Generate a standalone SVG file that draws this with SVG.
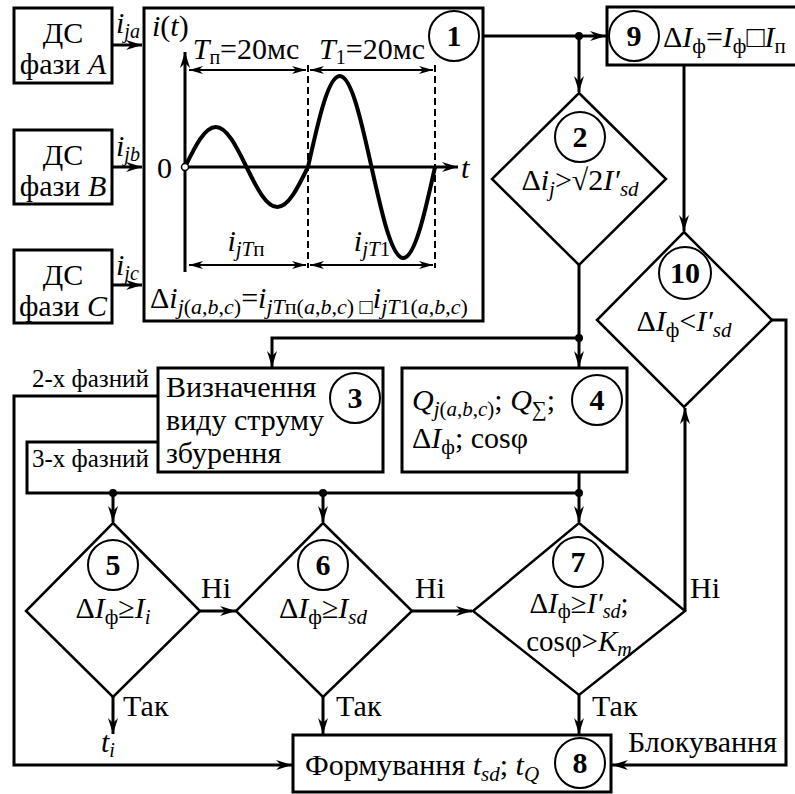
<svg xmlns="http://www.w3.org/2000/svg" width="795" height="794" viewBox="0 0 795 794">
<defs>
<marker id="arr" viewBox="0 0 16 10" refX="16" refY="5" markerWidth="16" markerHeight="10" markerUnits="userSpaceOnUse" orient="auto">
<path d="M0,0 L16,5 L0,10 L5,5 z" fill="#000"/>
</marker>
<marker id="da" viewBox="0 0 14 8" refX="14" refY="4" markerWidth="14" markerHeight="8" markerUnits="userSpaceOnUse" orient="auto">
<path d="M0,0 L14,4 L0,8 L4,4 z" fill="#000"/>
</marker>
<marker id="das" viewBox="0 0 14 8" refX="0" refY="4" markerWidth="14" markerHeight="8" markerUnits="userSpaceOnUse" orient="auto">
<path d="M14,0 L0,4 L14,8 L10,4 z" fill="#000"/>
</marker>
</defs>
<rect width="795" height="794" fill="#fff"/>

<g id="connectors" stroke="#000" stroke-width="3" fill="none">
<path d="M112,45 H142" marker-end="url(#arr)"/>
<path d="M112,167 H142" marker-end="url(#arr)"/>
<path d="M112,285 H142" marker-end="url(#arr)"/>
<path d="M483,36 H606" marker-end="url(#arr)"/>
<path d="M579,36 V92" marker-end="url(#arr)"/>
<path d="M579,265 V367" marker-end="url(#arr)"/>
<path d="M579,338 H272 V367" marker-end="url(#arr)"/>
<path d="M684,65 V231" marker-end="url(#arr)"/>
<path d="M772,320 H786 V765 H612" marker-end="url(#arr)"/>
<path d="M158,396 H14 V765 H292" marker-end="url(#arr)"/>
<path d="M158,442 H27 V493 H579"/>
<path d="M579,472 V522" marker-end="url(#arr)"/>
<path d="M113,493 V522" marker-end="url(#arr)"/>
<path d="M323,493 V522" marker-end="url(#arr)"/>
<path d="M200,611 H236" marker-end="url(#arr)"/>
<path d="M412,611 H472" marker-end="url(#arr)"/>
<path d="M685,611 V408" marker-end="url(#arr)"/>
<path d="M113,697 V734" marker-end="url(#arr)"/>
<path d="M323,697 V734" marker-end="url(#arr)"/>
<path d="M579,695 V734" marker-end="url(#arr)"/>
<g fill="#000" stroke="none">
<circle cx="579" cy="36" r="4"/>
<circle cx="579" cy="338" r="4"/>
<circle cx="579" cy="493" r="4"/>
<circle cx="113" cy="493" r="4"/>
<circle cx="323" cy="493" r="4"/>
</g>
</g>

<g id="labels">
<text font-family="Liberation Serif" font-size="30" x="116" y="33" font-style="italic">i<tspan font-size="20" dy="5">ja</tspan></text>
<text font-family="Liberation Serif" font-size="30" x="116" y="156" font-style="italic">i<tspan font-size="20" dy="5">jb</tspan></text>
<text font-family="Liberation Serif" font-size="30" x="116" y="275" font-style="italic">i<tspan font-size="20" dy="5">jc</tspan></text>
<text font-family="Liberation Serif" font-size="25" x="32" y="387">2-х фазний</text>
<text font-family="Liberation Serif" font-size="25" x="32" y="467">3-х фазний</text>
<text font-family="Liberation Serif" font-size="30" x="201" y="598">Ні</text>
<text font-family="Liberation Serif" font-size="30" x="415" y="598">Ні</text>
<text font-family="Liberation Serif" font-size="30" x="690" y="598">Ні</text>
<text font-family="Liberation Serif" font-size="30" x="123" y="716">Так</text>
<text font-family="Liberation Serif" font-size="30" x="336" y="716">Так</text>
<text font-family="Liberation Serif" font-size="30" x="592" y="716">Так</text>
<text font-family="Liberation Serif" font-size="30" x="101" y="752" font-style="italic">t<tspan font-size="20" dy="5">i</tspan></text>
<text font-family="Liberation Serif" font-size="30" x="628" y="752">Блокування</text>
</g>

<g id="dsA">
<rect x="14" y="8" width="98" height="75" fill="#fff" stroke="#000" stroke-width="3"/>
<text font-family="Liberation Serif" font-size="30" x="63" y="43" text-anchor="middle">ДС</text>
<text font-family="Liberation Serif" font-size="30" x="63" y="74" text-anchor="middle">фази <tspan font-style="italic">A</tspan></text>
</g>
<g id="dsB">
<rect x="14" y="130" width="98" height="74" fill="#fff" stroke="#000" stroke-width="3"/>
<text font-family="Liberation Serif" font-size="30" x="63" y="165" text-anchor="middle">ДС</text>
<text font-family="Liberation Serif" font-size="30" x="63" y="196" text-anchor="middle">фази <tspan font-style="italic">B</tspan></text>
</g>
<g id="dsC">
<rect x="14" y="250" width="98" height="73" fill="#fff" stroke="#000" stroke-width="3"/>
<text font-family="Liberation Serif" font-size="30" x="63" y="285" text-anchor="middle">ДС</text>
<text font-family="Liberation Serif" font-size="30" x="63" y="316" text-anchor="middle">фази <tspan font-style="italic">C</tspan></text>
</g>

<g id="node1">
<rect x="144" y="8" width="339" height="313" fill="#fff" stroke="#000" stroke-width="3"/>
<circle cx="454" cy="36" r="25" fill="none" stroke="#000" stroke-width="2"/>
<text font-family="Liberation Serif" font-size="30" x="454" y="46" text-anchor="middle" font-weight="bold">1</text>
<path d="M185,272 V52" stroke="#000" stroke-width="3" fill="none" marker-end="url(#arr)"/>
<path d="M185,167 H458" stroke="#000" stroke-width="3" fill="none" marker-end="url(#arr)"/>
<path d="M308,65 V268 M435,65 V268" stroke="#000" stroke-width="2" stroke-dasharray="7,4" fill="none"/>
<g stroke="#000" stroke-width="2" fill="none">
<path d="M189,70 H306" marker-start="url(#das)" marker-end="url(#da)"/>
<path d="M310,70 H433" marker-start="url(#das)" marker-end="url(#da)"/>
<path d="M189,265 H306" marker-start="url(#das)" marker-end="url(#da)"/>
<path d="M310,265 H433" marker-start="url(#das)" marker-end="url(#da)"/>
</g>
<path d="M185,167 C195.3,146 204.7,127 215.75,127 C226.8,127 236.2,146 246.5,167 C256.8,188 266.2,207 277.25,207 C288.3,207 297.7,188 308,167 C318.6,119.2 328.3,76 339.75,76 C351.2,76 361,119.2 371.5,167 C382.1,214.8 391.8,258 403.25,258 C414.7,258 424.5,214.8 435,167" fill="none" stroke="#000" stroke-width="4"/>
<circle cx="185" cy="167" r="3.5" fill="#fff" stroke="#000" stroke-width="1.5"/>
<text font-family="Liberation Serif" font-size="30" x="152" y="36"><tspan font-style="italic">i</tspan>(<tspan font-style="italic">t</tspan>)</text>
<text font-family="Liberation Serif" font-size="30" x="157" y="178">0</text>
<text font-family="Liberation Serif" font-size="30" x="461" y="178" font-style="italic">t</text>
<text font-family="Liberation Serif" font-size="30" x="246" y="59" text-anchor="middle"><tspan font-style="italic">T</tspan><tspan font-size="20" dy="5">п</tspan><tspan dy="-5">=20мс</tspan></text>
<text font-family="Liberation Serif" font-size="30" x="372" y="59" text-anchor="middle"><tspan font-style="italic">T</tspan><tspan font-size="20" dy="5">1</tspan><tspan dy="-5">=20мс</tspan></text>
<text font-family="Liberation Serif" font-size="30" x="246" y="251" text-anchor="middle"><tspan font-style="italic">i</tspan><tspan font-size="21" font-style="italic" dy="5">jT</tspan><tspan font-size="21">п</tspan></text>
<text font-family="Liberation Serif" font-size="30" x="372" y="251" text-anchor="middle"><tspan font-style="italic">i</tspan><tspan font-size="21" font-style="italic" dy="5">jT</tspan><tspan font-size="21">1</tspan></text>
<text font-family="Liberation Serif" font-size="30" x="150" y="308">Δ<tspan font-style="italic">i</tspan><tspan font-size="22" dy="6"><tspan font-style="italic">j</tspan>(<tspan font-style="italic">a</tspan>,<tspan font-style="italic">b</tspan>,<tspan font-style="italic">c</tspan>)</tspan><tspan dy="-6">=</tspan><tspan font-style="italic">i</tspan><tspan font-size="22" dy="6"><tspan font-style="italic">jT</tspan>п(<tspan font-style="italic">a</tspan>,<tspan font-style="italic">b</tspan>,<tspan font-style="italic">c</tspan>) □</tspan><tspan font-style="italic" dy="-6">i</tspan><tspan font-size="22" dy="6"><tspan font-style="italic">jT</tspan>1(<tspan font-style="italic">a</tspan>,<tspan font-style="italic">b</tspan>,<tspan font-style="italic">c</tspan>)</tspan></text>
</g>

<g id="node9">
<rect x="607" y="7" width="200" height="58" fill="#fff" stroke="#000" stroke-width="3"/>
<circle cx="634" cy="36" r="25" fill="none" stroke="#000" stroke-width="2"/>
<text font-family="Liberation Serif" font-size="30" x="634" y="46" text-anchor="middle" font-weight="bold">9</text>
<text font-family="Liberation Serif" font-size="30" x="663" y="47">Δ<tspan font-style="italic">I</tspan><tspan font-size="21" dy="6">ф</tspan><tspan dy="-6">=</tspan><tspan font-style="italic">I</tspan><tspan font-size="21" dy="6">ф</tspan><tspan dy="-6">□</tspan><tspan font-style="italic">I</tspan><tspan font-size="21" dy="6">п</tspan></text>
</g>

<g id="node2">
<polygon points="579,93 666,179 579,265 492,179" fill="#fff" stroke="#000" stroke-width="2.5"/>
<circle cx="580" cy="137" r="25" fill="none" stroke="#000" stroke-width="2"/>
<text font-family="Liberation Serif" font-size="30" x="580" y="147" text-anchor="middle" font-weight="bold">2</text>
<text font-family="Liberation Serif" font-size="30" x="580" y="190" text-anchor="middle">Δ<tspan font-style="italic">i</tspan><tspan font-size="21" font-style="italic" dy="6">j</tspan><tspan dy="-6">&gt;√2</tspan><tspan font-style="italic">I′</tspan><tspan font-size="21" font-style="italic" dy="6">sd</tspan></text>
</g>

<g id="node10">
<polygon points="684,232 772,320 684,407 597,320" fill="#fff" stroke="#000" stroke-width="2.5"/>
<circle cx="685" cy="273" r="26" fill="none" stroke="#000" stroke-width="2"/>
<text font-family="Liberation Serif" font-size="30" x="685" y="283" text-anchor="middle" font-weight="bold">10</text>
<text font-family="Liberation Serif" font-size="30" x="684" y="331" text-anchor="middle">Δ<tspan font-style="italic">I</tspan><tspan font-size="21" dy="6">ф</tspan><tspan dy="-6">&lt;</tspan><tspan font-style="italic">I′</tspan><tspan font-size="21" font-style="italic" dy="6">sd</tspan></text>
</g>

<g id="node3">
<rect x="158" y="368" width="225" height="104" fill="#fff" stroke="#000" stroke-width="3"/>
<circle cx="355" cy="398" r="25" fill="none" stroke="#000" stroke-width="2"/>
<text font-family="Liberation Serif" font-size="30" x="355" y="408" text-anchor="middle" font-weight="bold">3</text>
<text font-family="Liberation Serif" font-size="30" x="166" y="397">Визначення</text>
<text font-family="Liberation Serif" font-size="30" x="166" y="430">виду струму</text>
<text font-family="Liberation Serif" font-size="30" x="166" y="463">збурення</text>
</g>

<g id="node4">
<rect x="402" y="368" width="225" height="104" fill="#fff" stroke="#000" stroke-width="3"/>
<circle cx="597" cy="400" r="25" fill="none" stroke="#000" stroke-width="2"/>
<text font-family="Liberation Serif" font-size="30" x="597" y="410" text-anchor="middle" font-weight="bold">4</text>
<text font-family="Liberation Serif" font-size="30" x="412" y="410"><tspan font-style="italic">Q</tspan><tspan font-size="21" dy="6"><tspan font-style="italic">j</tspan>(<tspan font-style="italic">a</tspan>,<tspan font-style="italic">b</tspan>,<tspan font-style="italic">c</tspan>)</tspan><tspan dy="-6">; </tspan><tspan font-style="italic">Q</tspan><tspan font-size="21" dy="6">∑</tspan><tspan dy="-6">;</tspan></text>
<text font-family="Liberation Serif" font-size="30" x="412" y="448">Δ<tspan font-style="italic">I</tspan><tspan font-size="21" dy="6">ф</tspan><tspan dy="-6">; cosφ</tspan></text>
</g>

<g id="node5">
<polygon points="113,523 200,611 113,697 26,611" fill="#fff" stroke="#000" stroke-width="2.5"/>
<circle cx="113" cy="565" r="25" fill="none" stroke="#000" stroke-width="2"/>
<text font-family="Liberation Serif" font-size="30" x="113" y="575" text-anchor="middle" font-weight="bold">5</text>
<text font-family="Liberation Serif" font-size="30" x="113" y="618" text-anchor="middle">Δ<tspan font-style="italic">I</tspan><tspan font-size="21" dy="6">ф</tspan><tspan dy="-6">≥</tspan><tspan font-style="italic">I</tspan><tspan font-size="21" font-style="italic" dy="6">i</tspan></text>
</g>

<g id="node6">
<polygon points="323,523 412,611 323,697 236,611" fill="#fff" stroke="#000" stroke-width="2.5"/>
<circle cx="323" cy="565" r="25" fill="none" stroke="#000" stroke-width="2"/>
<text font-family="Liberation Serif" font-size="30" x="323" y="575" text-anchor="middle" font-weight="bold">6</text>
<text font-family="Liberation Serif" font-size="30" x="323" y="618" text-anchor="middle">Δ<tspan font-style="italic">I</tspan><tspan font-size="21" dy="6">ф</tspan><tspan dy="-6">≥</tspan><tspan font-style="italic">I</tspan><tspan font-size="21" font-style="italic" dy="6">sd</tspan></text>
</g>

<g id="node7">
<polygon points="579,523 685,611 579,695 473,611" fill="#fff" stroke="#000" stroke-width="2.5"/>
<circle cx="578" cy="562" r="25" fill="none" stroke="#000" stroke-width="2"/>
<text font-family="Liberation Serif" font-size="30" x="578" y="572" text-anchor="middle" font-weight="bold">7</text>
<text font-family="Liberation Serif" font-size="29" x="579" y="613" text-anchor="middle">Δ<tspan font-style="italic">I</tspan><tspan font-size="20" dy="5">ф</tspan><tspan dy="-5">≥</tspan><tspan font-style="italic">I′</tspan><tspan font-size="20" font-style="italic" dy="5">sd</tspan><tspan dy="-5">;</tspan></text>
<text font-family="Liberation Serif" font-size="29" x="579" y="651" text-anchor="middle">cosφ&gt;<tspan font-style="italic">K</tspan><tspan font-size="20" font-style="italic" dy="5">m</tspan></text>
</g>

<g id="node8">
<rect x="293" y="735" width="318" height="57" fill="#fff" stroke="#000" stroke-width="3"/>
<circle cx="580" cy="763" r="25" fill="none" stroke="#000" stroke-width="2"/>
<text font-family="Liberation Serif" font-size="30" x="580" y="773" text-anchor="middle" font-weight="bold">8</text>
<text font-family="Liberation Serif" font-size="30" x="305" y="775">Формування <tspan font-style="italic">t</tspan><tspan font-size="21" font-style="italic" dy="6">sd</tspan><tspan dy="-6">; </tspan><tspan font-style="italic">t</tspan><tspan font-size="21" font-style="italic" dy="6">Q</tspan></text>
</g>
</svg>
